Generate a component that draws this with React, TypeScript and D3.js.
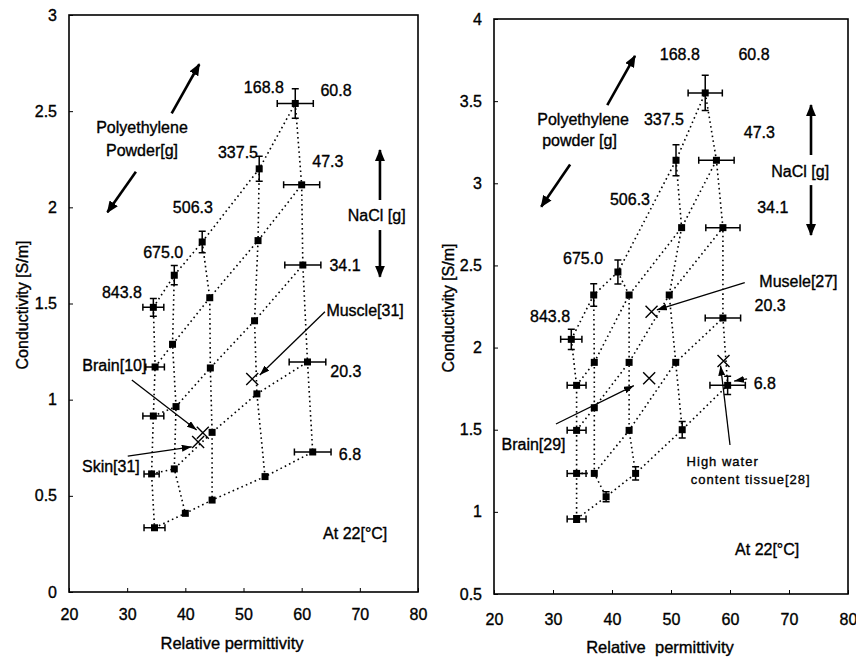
import React, { useEffect, useRef } from 'react';
import * as d3 from 'd3';

// grid labels: rows = NaCl [g], columns = polyethylene powder [g]
const powderLabels = ['843.8', '675.0', '506.3', '337.5', '168.8'];
const naclLabels = ['60.8', '47.3', '34.1', '20.3', '6.8'];

const xTicks = [20, 30, 40, 50, 60, 70, 80];
const leftYTicks = [0, 0.5, 1, 1.5, 2, 2.5, 3];
const rightYTicks = [0.5, 1, 1.5, 2, 2.5, 3, 3.5, 4];

// left chart: relative permittivity / conductivity, rows NaCl 60.8 -> 6.8, cols powder 843.8 -> 168.8
const leftPerm = [
  [34.5, 38.1, 42.9, 52.7, 58.9],
  [34.8, 37.8, 44.2, 52.5, 60.0],
  [34.5, 38.4, 44.3, 51.9, 60.2],
  [34.2, 38.1, 44.6, 52.3, 61.0],
  [34.7, 40.0, 44.6, 53.7, 61.9],
];
const leftCond = [
  [1.48, 1.647, 1.82, 2.2, 2.54],
  [1.17, 1.288, 1.53, 1.827, 2.117],
  [0.915, 0.964, 1.165, 1.41, 1.7],
  [0.614, 0.64, 0.83, 1.03, 1.196],
  [0.334, 0.409, 0.478, 0.6, 0.728],
];
const leftPermErr = [
  [1.8, 0, 0, 0, 3.1],
  [1.6, 0, 0, 0, 3.1],
  [1.8, 0, 0, 0, 3.1],
  [1.3, 0, 0, 0, 3.15],
  [1.8, 0, 0, 0, 3.15],
];
const leftCondErr = [
  [0.046, 0.05, 0.056, 0.065, 0.077],
  [0, 0, 0, 0, 0],
  [0, 0, 0, 0, 0],
  [0, 0, 0, 0, 0],
  [0, 0, 0, 0, 0],
];

// right chart
const rightPerm = [
  [33.1, 36.9, 41.0, 50.85, 55.8],
  [34.0, 37.0, 42.9, 51.8, 57.7],
  [34.0, 37.0, 42.9, 49.7, 58.8],
  [34.0, 37.0, 42.9, 50.8, 58.8],
  [34.0, 39.0, 44.0, 51.9, 59.6],
];
const rightCond = [
  [2.05, 2.32, 2.46, 3.14, 3.55],
  [1.77, 1.91, 2.32, 2.73, 3.14],
  [1.496, 1.634, 1.91, 2.32, 2.73],
  [1.234, 1.234, 1.496, 1.91, 2.18],
  [0.956, 1.092, 1.234, 1.5, 1.77],
];
const rightPermErr = [
  [1.8, 0, 0, 0, 2.9],
  [1.6, 0, 0, 0, 3.0],
  [1.6, 0, 0, 0, 2.9],
  [1.6, 0, 0, 0, 3.0],
  [1.6, 0, 0, 0, 3.0],
];
const rightCondErr = [
  [0.061, 0.069, 0.073, 0.094, 0.107],
  [0, 0, 0, 0, 0],
  [0, 0, 0, 0, 0],
  [0, 0, 0, 0, 0],
  [0.02, 0.03, 0.04, 0.05, 0.056],
];

// reference tissues
const leftTissues = [
  { name: 'Muscle[31]', perm: 51.5, cond: 1.108 },
  { name: 'Brain[10]', perm: 43.0, cond: 0.828 },
  { name: 'Skin[31]', perm: 42.2, cond: 0.78 },
];
const rightTissues = [
  { name: 'Musele[27]', perm: 46.7, cond: 2.218 },
  { name: 'Brain[29]', perm: 46.3, cond: 1.813 },
  { name: 'High water content tissue[28]', perm: 58.9, cond: 1.918 },
];

// annotation text, placed in data units
const leftNotes = [
  { text: '168.8', x: 53.5, y: 2.624 },
  { text: '60.8', x: 65.9, y: 2.607 },
  { text: '337.5', x: 49.05, y: 2.284 },
  { text: '47.3', x: 64.5, y: 2.237 },
  { text: '506.3', x: 41.3, y: 1.997 },
  { text: '675.0', x: 36.2, y: 1.763 },
  { text: '34.1', x: 67.45, y: 1.7 },
  { text: '843.8', x: 29.1, y: 1.555 },
  { text: '20.3', x: 67.6, y: 1.145 },
  { text: '6.8', x: 68.3, y: 0.716 },
  { text: 'Polyethylene', x: 32.55, y: 2.413 },
  { text: 'Powder[g]', x: 32.55, y: 2.298 },
  { text: 'NaCl [g]', x: 72.9, y: 1.96 },
  { text: 'Muscle[31]', x: 70.9, y: 1.466 },
  { text: 'Brain[10]', x: 27.8, y: 1.177 },
  { text: 'Skin[31]', x: 27.2, y: 0.65 },
  { text: 'At 22[°C]', x: 69.2, y: 0.305 },
];
const rightNotes = [
  { text: '168.8', x: 51.5, y: 3.781 },
  { text: '60.8', x: 64.07, y: 3.781 },
  { text: '337.5', x: 48.8, y: 3.389 },
  { text: '47.3', x: 64.97, y: 3.308 },
  { text: '506.3', x: 43.05, y: 2.902 },
  { text: '34.1', x: 67.24, y: 2.854 },
  { text: '675.0', x: 35.1, y: 2.543 },
  { text: '843.8', x: 29.5, y: 2.188 },
  { text: '20.3', x: 66.8, y: 2.259 },
  { text: '6.8', x: 65.9, y: 1.782 },
  { text: 'Polyethylene', x: 35.1, y: 3.389 },
  { text: 'powder [g]', x: 34.5, y: 3.263 },
  { text: 'NaCl [g]', x: 71.9, y: 3.07 },
  { text: 'Musele[27]', x: 71.6, y: 2.405 },
  { text: 'Brain[29]', x: 26.7, y: 1.413 },
  { text: 'At 22[°C]', x: 66.3, y: 0.768 },
];
const rightSmallNotes = [
  { text: 'High water', x: 58.76, y: 1.305 },
  { text: 'content tissue[28]', x: 63.5, y: 1.194 },
];

// arrows in data units, bold = thick direction arrows
const leftArrows = [
  { from: [37.65, 2.489], to: [42.4, 2.744], bold: true },
  { from: [31.5, 2.185], to: [26.6, 1.974], bold: true },
  { from: [73.46, 2.038], to: [73.46, 2.298], bold: true },
  { from: [73.46, 1.882], to: [73.46, 1.639], bold: true },
  { from: [64.0, 1.457], to: [52.8, 1.128], bold: false },
  { from: [30.8, 1.102], to: [41.95, 0.842], bold: false },
  { from: [30.1, 0.707], to: [41.1, 0.755], bold: false },
];
const rightArrows = [
  { from: [39.2, 3.476], to: [43.9, 3.775], bold: true },
  { from: [32.9, 3.115], to: [28.0, 2.857], bold: true },
  { from: [73.73, 3.172], to: [73.73, 3.476], bold: true },
  { from: [73.73, 2.989], to: [73.73, 2.685], bold: true },
  { from: [62.5, 2.395], to: [47.6, 2.229], bold: false },
  { from: [30.5, 1.535], to: [43.7, 1.768], bold: false },
  { from: [60.0, 1.407], to: [58.4, 1.89], bold: false },
  { from: [62.9, 1.81], to: [60.7, 1.796], bold: false },
];

const FONT = '"Liberation Sans", Arial, Helvetica, sans-serif';

export default function App() {
  const ref = useRef<SVGSVGElement>(null);

  useEffect(() => {
    if (!ref.current) return;
    const svg = d3.select(ref.current);
    svg.selectAll('*').remove();

    const defs = svg.append('defs');
    defs.append('marker')
      .attr('id', 'head-bold')
      .attr('markerUnits', 'userSpaceOnUse')
      .attr('viewBox', '0 0 12 10')
      .attr('refX', 11).attr('refY', 5)
      .attr('markerWidth', 12).attr('markerHeight', 10)
      .attr('orient', 'auto')
      .append('path').attr('d', 'M0,0L12,5L0,10Z').attr('fill', '#000');
    defs.append('marker')
      .attr('id', 'head-thin')
      .attr('markerUnits', 'userSpaceOnUse')
      .attr('viewBox', '0 0 10 7')
      .attr('refX', 10).attr('refY', 3.5)
      .attr('markerWidth', 10).attr('markerHeight', 7)
      .attr('orient', 'auto')
      .append('path').attr('d', 'M0,0L10,3.5L0,7Z').attr('fill', '#000');

    const panels = [
      {
        box: { left: 69, right: 418, top: 15, bottom: 592 },
        yDomain: [0, 3], yTicks: leftYTicks,
        perm: leftPerm, cond: leftCond, permErr: leftPermErr, condErr: leftCondErr,
        tissues: leftTissues, notes: leftNotes, small: [] as any[], arrows: leftArrows,
        xLabel: 'Relative permittivity', xLabelX: 232, xLabelY: 643, yLabelX: 22, yLabelY: 305, tickPad: 17,
      },
      {
        box: { left: 494, right: 848, top: 19, bottom: 594 },
        yDomain: [0.5, 4], yTicks: rightYTicks,
        perm: rightPerm, cond: rightCond, permErr: rightPermErr, condErr: rightCondErr,
        tissues: rightTissues, notes: rightNotes, small: rightSmallNotes, arrows: rightArrows,
        xLabel: 'Relative  permittivity', xLabelX: 660, xLabelY: 647, yLabelX: 448, yLabelY: 308, tickPad: 20,
      },
    ];

    const ink = (sel: any) => sel.attr('fill', '#000').attr('stroke', '#000').attr('stroke-width', 0.35);

    panels.forEach((p) => {
      const { box } = p;
      const x = d3.scaleLinear().domain([20, 80]).range([box.left, box.right]);
      const y = d3.scaleLinear().domain(p.yDomain).range([box.bottom, box.top]);
      const g = svg.append('g').style('font-family', FONT);

      // X axis
      g.append('g')
        .attr('transform', `translate(0,${box.bottom})`)
        .call(d3.axisBottom(x).tickValues(xTicks).tickSize(-4).tickPadding(p.tickPad).tickFormat(d3.format('d')))
        .call((a) => a.select('.domain').remove())
        .call((a) => a.selectAll('.tick line').attr('stroke', '#000'))
        .call((a) => ink(a.selectAll('.tick text')).style('font-size', '16px').style('font-family', FONT));

      // Y axis
      g.append('g')
        .attr('transform', `translate(${box.left},0)`)
        .call(d3.axisLeft(y).tickValues(p.yTicks).tickSize(-4).tickPadding(12).tickFormat((d) => `${d}`))
        .call((a) => a.select('.domain').remove())
        .call((a) => a.selectAll('.tick line').attr('stroke', '#000'))
        .call((a) => ink(a.selectAll('.tick text')).style('font-size', '16px').style('font-family', FONT));

      // frame
      g.append('rect')
        .attr('x', box.left).attr('y', box.top)
        .attr('width', box.right - box.left).attr('height', box.bottom - box.top)
        .attr('fill', 'none').attr('stroke', '#000').attr('stroke-width', 1.6);

      // axis titles
      ink(g.append('text'))
        .attr('x', p.xLabelX)
        .attr('y', p.xLabelY)
        .attr('text-anchor', 'middle')
        .attr('dominant-baseline', 'central')
        .style('font-size', '16.5px')
        .style('white-space', 'pre')
        .text(p.xLabel);
      ink(g.append('text'))
        .attr('transform', `translate(${p.yLabelX},${p.yLabelY}) rotate(-90)`)
        .attr('text-anchor', 'middle')
        .attr('dominant-baseline', 'central')
        .style('font-size', '16px')
        .text('Conductivity [S/m]');

      // points as flat list
      const pts = naclLabels.flatMap((n, r) =>
        powderLabels.map((pw, c) => ({
          nacl: n, powder: pw,
          px: p.perm[r][c], py: p.cond[r][c],
          ex: p.permErr[r][c], ey: p.condErr[r][c],
        }))
      );

      const line = d3.line<[number, number]>().x((d) => x(d[0])).y((d) => y(d[1]));
      const dotted = g.append('g')
        .attr('fill', 'none').attr('stroke', '#000')
        .attr('stroke-width', 1.6).attr('stroke-dasharray', '1.6 3.2');
      // constant NaCl
      naclLabels.forEach((_, r) => {
        dotted.append('path').attr('d', line(powderLabels.map((__, c) => [p.perm[r][c], p.cond[r][c]]))!);
      });
      // constant powder
      powderLabels.forEach((_, c) => {
        dotted.append('path').attr('d', line(naclLabels.map((__, r) => [p.perm[r][c], p.cond[r][c]]))!);
      });

      // error bars
      const eb = g.append('g').attr('stroke', '#000').attr('stroke-width', 1.5).attr('fill', 'none');
      pts.filter((d) => d.ex > 0).forEach((d) => {
        const x1 = x(d.px - d.ex), x2 = x(d.px + d.ex), cy = y(d.py);
        eb.append('path').attr('d', `M${x1},${cy}H${x2}M${x1},${cy - 3.5}V${cy + 3.5}M${x2},${cy - 3.5}V${cy + 3.5}`);
      });
      pts.filter((d) => d.ey > 0).forEach((d) => {
        const y1 = y(d.py - d.ey), y2 = y(d.py + d.ey), cx = x(d.px);
        eb.append('path').attr('d', `M${cx},${y1}V${y2}M${cx - 3.5},${y1}H${cx + 3.5}M${cx - 3.5},${y2}H${cx + 3.5}`);
      });

      // squares
      g.append('g').selectAll('rect')
        .data(pts)
        .join('rect')
        .attr('x', (d) => x(d.px) - 3.5)
        .attr('y', (d) => y(d.py) - 3.5)
        .attr('width', 7).attr('height', 7)
        .attr('fill', '#000');

      // tissue crosses
      g.append('g').selectAll('path')
        .data(p.tissues)
        .join('path')
        .attr('transform', (d) => `translate(${x(d.perm)},${y(d.cond)})`)
        .attr('d', 'M-6,-6L6,6M-6,6L6,-6')
        .attr('stroke', '#000').attr('stroke-width', 1.4);

      // arrows
      p.arrows.forEach((a) => {
        g.append('line')
          .attr('x1', x(a.from[0])).attr('y1', y(a.from[1]))
          .attr('x2', x(a.to[0])).attr('y2', y(a.to[1]))
          .attr('stroke', '#000')
          .attr('stroke-width', a.bold ? 2.6 : 1.3)
          .attr('marker-end', a.bold ? 'url(#head-bold)' : 'url(#head-thin)');
      });

      // notes
      ink(g.append('g').selectAll('text')
        .data(p.notes)
        .join('text'))
        .attr('x', (d: any) => x(d.x)).attr('y', (d: any) => y(d.y))
        .attr('text-anchor', 'middle')
        .attr('dominant-baseline', 'central')
        .style('font-size', '16px')
        .text((d: any) => d.text);
      ink(g.append('g').selectAll('text')
        .data(p.small)
        .join('text'))
        .attr('x', (d: any) => x(d.x)).attr('y', (d: any) => y(d.y))
        .attr('text-anchor', 'middle')
        .attr('dominant-baseline', 'central')
        .style('font-size', '13px')
        .style('letter-spacing', '1px')
        .text((d: any) => d.text);
    });
  }, []);

  return (
    <div style={{ position: 'absolute', left: 0, top: 0, width: 856, height: 657, background: '#fff' }}>
      <svg ref={ref} width={856} height={657} style={{ display: 'block' }} />
    </div>
  );
}
